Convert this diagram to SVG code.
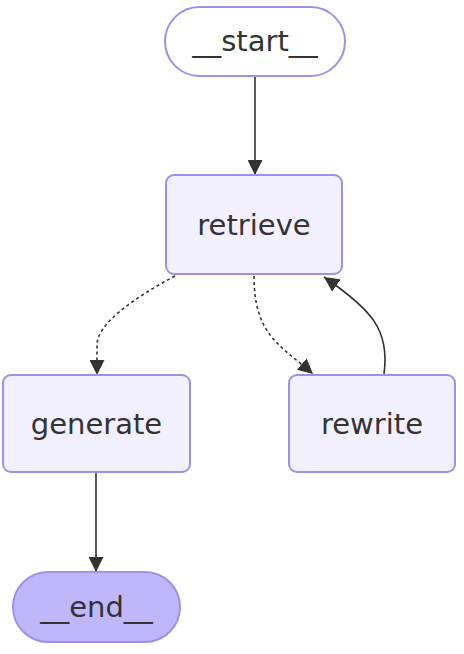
<svg xmlns="http://www.w3.org/2000/svg" width="464" height="654" viewBox="0 0 464 654">
<style>
.node rect{fill:#f2f0ff;stroke:#a48de6;stroke-width:2}
.node.first rect{fill:#ffffff}
.node.last rect{fill:#bfb6fc}
.node text{font-family:"DejaVu Sans",sans-serif;font-size:29px;fill:#333333;text-anchor:middle}
.edge{fill:none;stroke:#333333;stroke-width:1.6}
.dotted{stroke-dasharray:3 3}
</style>
<defs>
<marker id="arrow" markerUnits="userSpaceOnUse" markerWidth="15" markerHeight="15" refX="15" refY="7.5" orient="auto" viewBox="0 0 15 15">
<path d="M0,0 L15,7.5 L0,15 z" fill="#333333"/>
</marker>
</defs>
<rect width="464" height="654" fill="#ffffff"/>
<g id="edges">
<path class="edge" d="M255,76 L255,175" marker-end="url(#arrow)"/>
<path class="edge dotted" d="M175,276 C130,300 97,325 97,345 L97,375" marker-end="url(#arrow)"/>
<path class="edge dotted" d="M254,276 C254,335 280,345 313,374" marker-end="url(#arrow)"/>
<path class="edge" d="M384,374 C390,330 372,310 324,277" marker-end="url(#arrow)"/>
<path class="edge" d="M96,472 L96,572" marker-end="url(#arrow)"/>
</g>
<g id="start" class="node first">
<rect x="165" y="7" width="180" height="69" rx="34.5" ry="34.5"/>
<text x="255" y="51">__start__</text>
</g>
<g id="retrieve" class="node">
<rect x="166" y="175" width="176" height="99" rx="8" ry="8"/>
<text x="254" y="235">retrieve</text>
</g>
<g id="generate" class="node">
<rect x="3" y="375" width="187" height="97" rx="8" ry="8"/>
<text x="96.5" y="434">generate</text>
</g>
<g id="rewrite" class="node">
<rect x="289" y="375" width="166" height="97" rx="8" ry="8"/>
<text x="372" y="434">rewrite</text>
</g>
<g id="end" class="node last">
<rect x="13" y="572" width="167" height="70" rx="35" ry="35"/>
<text x="96.5" y="617">__end__</text>
</g>
</svg>
